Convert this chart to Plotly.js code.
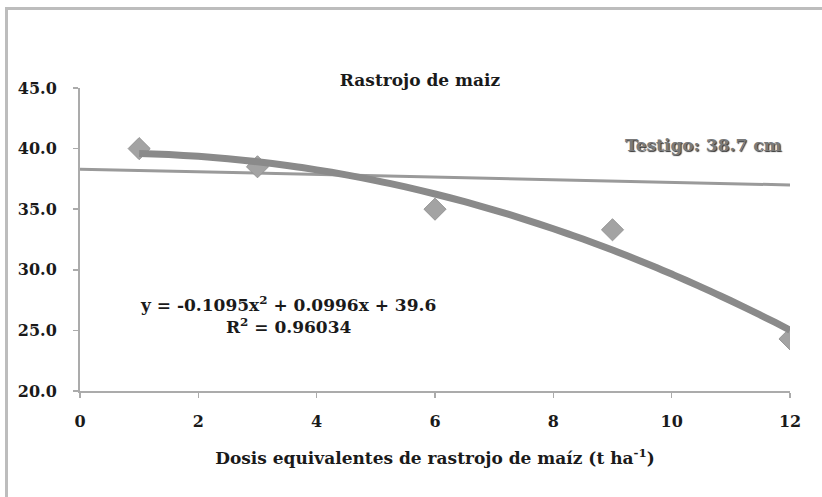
<!DOCTYPE html>
<html><head><meta charset="utf-8">
<script src="https://cdn.plot.ly/plotly-3.0.1.min.js"></script>
<style>
html,body{margin:0;padding:0;background:#fff;}
#frame{position:absolute;left:5px;top:7px;width:830px;height:500px;border-left:3px solid #bdbdbd;border-top:3px solid #bdbdbd;}
#chart{position:absolute;left:0;top:0;width:822px;height:497px;}
</style></head>
<body>
<div id="frame"></div>
<div id="chart"></div>
<script>
const doses = [1, 3, 6, 9, 12];
const heights = [40.0, 38.5, 35.0, 33.3, 24.3];
const controlX = [0, 12];
const controlY = [38.3, 37.0];
const coefA = -0.1095, coefB = 0.0996, coefC = 39.6;
const trendX = [];
for (let x = 1; x <= 12.0001; x += 0.25) trendX.push(x);
const trendY = trendX.map(x => coefA*x*x + coefB*x + coefC);
const titleText = 'Rastrojo de maiz';
const xTitle = 'Dosis equivalentes de rastrojo de maíz (t ha<sup>-1</sup>)';
const eqText = 'y = -0.1095x<sup>2</sup> + 0.0996x + 39.6<br>R<sup>2</sup> = 0.96034';
const controlLabel = 'Testigo: 38.7 cm';

const FAM = 'DejaVu Serif';
function f(size, extra) { return Object.assign({family: FAM, color: '#1a1a1a', size: size}, extra || {}); }

const traces = [
  {x: controlX, y: controlY, mode: 'lines', line: {color: '#9a9a9a', width: 3}, hoverinfo: 'skip'},
  {x: doses, y: heights, mode: 'markers', marker: {symbol: 'diamond', size: 17, color: '#a3a3a3', line: {color: '#959595', width: 1}}},
  {x: trendX, y: trendY, mode: 'lines', line: {color: '#8a8a8a', width: 7, shape: 'spline'}, hoverinfo: 'skip'}
];

const layout = {
  width: 822, height: 497,
  font: {family: FAM},
  paper_bgcolor: 'rgba(0,0,0,0)', plot_bgcolor: 'rgba(0,0,0,0)',
  margin: {l: 80, r: 32, t: 88, b: 106},
  showlegend: false,
  title: {text: '<b>' + titleText + '</b>', font: f(17),
          xref: 'container', x: 420/822, xanchor: 'center',
          yref: 'container', y: 1 - 80/497, yanchor: 'middle'},
  xaxis: {
    range: [0, 12], dtick: 2, tick0: 0, showgrid: false, zeroline: false,
    showline: true, linecolor: '#ababab', linewidth: 2,
    ticks: 'outside', ticklen: 5, tickcolor: '#ababab', tickwidth: 1.5,
    tickfont: f(16, {weight: 'bold'}), ticklabelstandoff: 10,
    title: {text: '<b>' + xTitle + '</b>', font: f(17), standoff: 22}
  },
  yaxis: {
    range: [20, 45], dtick: 5, tick0: 20, showgrid: false, zeroline: false,
    showline: true, linecolor: '#ababab', linewidth: 2,
    ticks: 'outside', ticklen: 5, tickcolor: '#ababab', tickwidth: 1.5,
    tickformat: '.1f', ticklabelstandoff: 13,
    tickfont: f(16, {weight: 'bold'})
  },
  annotations: [
    {text: '<b>' + eqText + '</b>', x: 3.51, y: 26.3, xref: 'x', yref: 'y', showarrow: false,
     font: f(17), align: 'center'},
    {text: '<b>' + controlLabel + '</b>', x: 10.53, y: 40.3, xref: 'x', yref: 'y', showarrow: false,
     font: f(17, {color: '#7a7a7a', shadow: '1px 1px 1px #333'})}
  ]
};

Plotly.newPlot('chart', traces, layout, {displayModeBar: false, staticPlot: true});
</script>
</body></html>
